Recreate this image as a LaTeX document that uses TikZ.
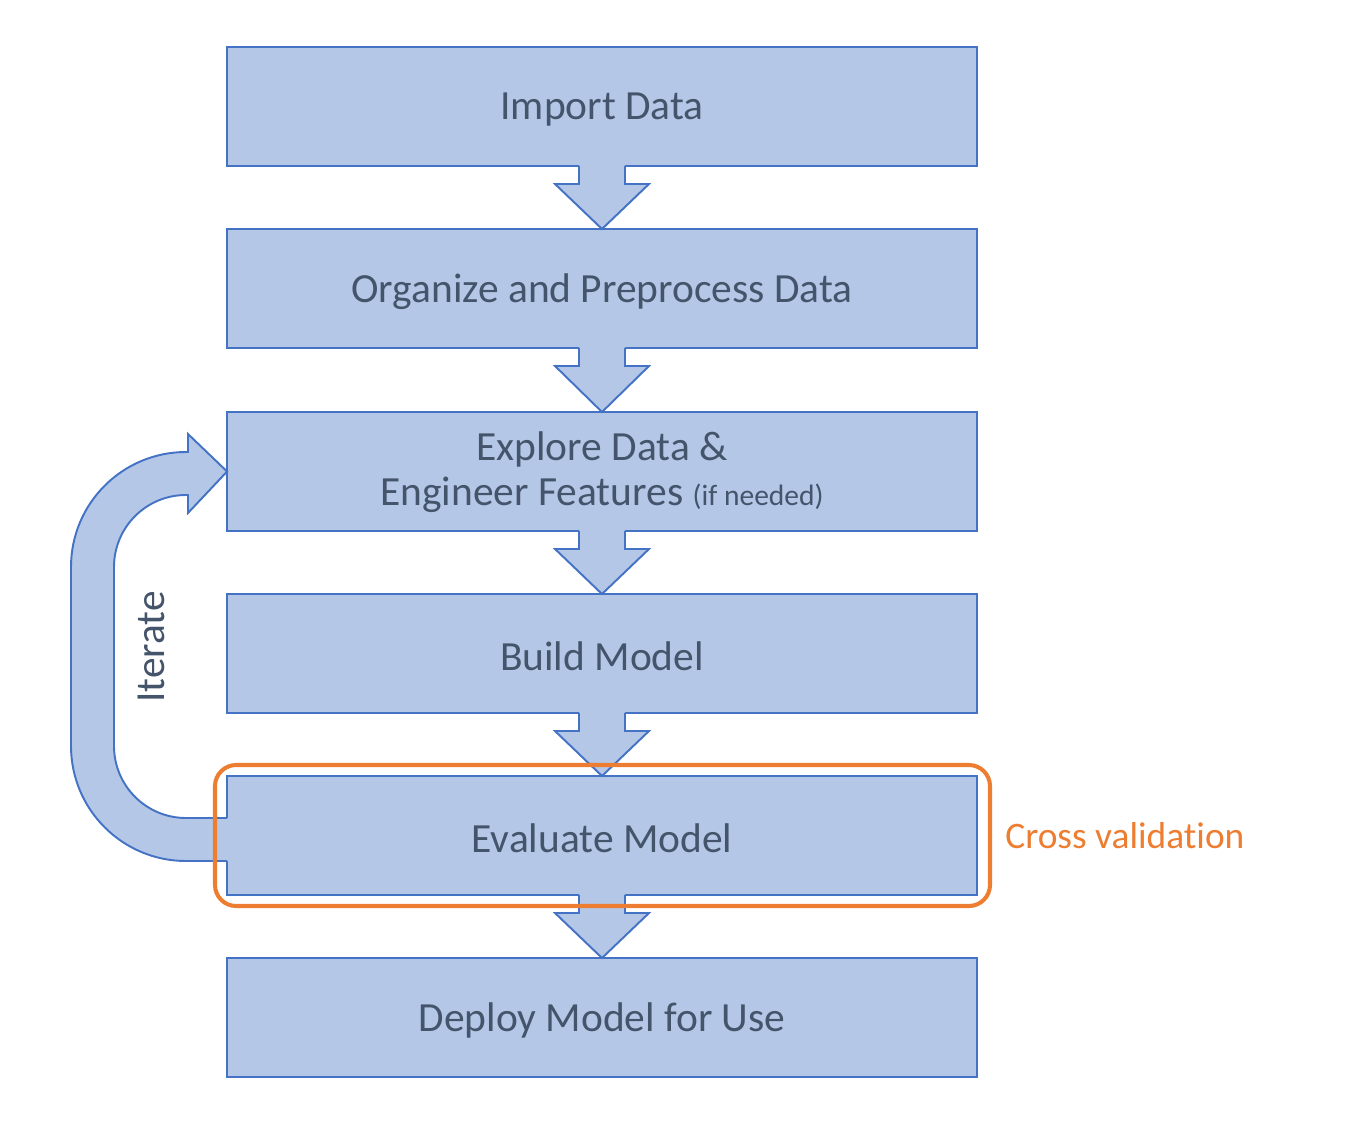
\documentclass[tikz,border=0pt]{standalone}
\usepackage{fontspec}
\setmainfont{Carlito}[Ligatures=NoCommon]
\usetikzlibrary{calc}
\definecolor{boxfill}{HTML}{B4C7E7}
\definecolor{boxline}{HTML}{4472C4}
\definecolor{txt}{HTML}{44546A}
\definecolor{orng}{HTML}{ED7D31}
\newcommand{\dn}[1]{\raisebox{-1.6pt}[\height][\depth]{#1}}
\begin{document}
\begin{tikzpicture}[x=0.02cm,y=-0.02cm,
  stepbox/.style={draw=boxline,fill=boxfill,line width=1.1pt,minimum width=15cm,minimum height=2.38cm,inner sep=0pt,outer sep=0pt,text=txt,font=\fontsize{23.6pt}{25.5pt}\selectfont,align=center},
  arrfill/.style={fill=boxfill},
  arrline/.style={draw=boxline,line width=1.1pt,line join=miter}]
\useasboundingbox (0,0) rectangle (1372,1125);
\node[stepbox] (b1) at (602,106.5) {\dn{Import Data}};
\node[stepbox] (b2) at (602,288.5) {\dn{Organize and Preprocess Data}};
\node[stepbox] (b3) at (602,471.5) {\raisebox{-0.6pt}[\height][\depth]{Explore Data \&}\\\raisebox{-0.6pt}[\height][\depth]{Engineer Features {\fontsize{16.8pt}{18pt}\selectfont(if needed)}}};
\node[stepbox] (b4) at (602,653.5) {\dn{Build Model}};
\node[stepbox] (b5) at (602,835.5) {\dn{Evaluate Model}};
\node[stepbox] (b6) at (602,1017.5) {\dn{Deploy Model for Use}};
\foreach \a/\b in {b1/b2,b2/b3,b3/b4,b4/b5,b5/b6}{
  \fill[arrfill] ($(\a.south)+(-23,-2)$) -- ($(\a.south)+(-23,18)$) -- ($(\a.south)+(-47,18)$) -- (\b.north) -- ($(\a.south)+(47,18)$) -- ($(\a.south)+(23,18)$) -- ($(\a.south)+(23,-2)$) -- cycle;
  \draw[arrline] ($(\a.south)+(-23,0)$) -- ($(\a.south)+(-23,18)$) -- ($(\a.south)+(-47,18)$) -- (\b.north) -- ($(\a.south)+(47,18)$) -- ($(\a.south)+(23,18)$) -- ($(\a.south)+(23,0)$);
}
% iterate arrow
\fill[arrfill] ($(b5.west)+(2,25.5)$) -- (186,861) arc[start angle=90,end angle=180,radius=115] -- (71,567) arc[start angle=180,end angle=270,radius=115] -- (188,452) -- (188,434) -- (b3.west) -- (188,513) -- (188,495) -- (186,495) arc[start angle=270,end angle=180,radius=72] -- (114,746) arc[start angle=180,end angle=90,radius=72] -- ($(b5.west)+(2,-17.5)$) -- cycle;
\draw[arrline] ($(b5.west)+(0,25.5)$) -- (186,861) arc[start angle=90,end angle=180,radius=115] -- (71,567) arc[start angle=180,end angle=270,radius=115] -- (188,452) -- (188,434) -- (b3.west) -- (188,513) -- (188,495) -- (186,495) arc[start angle=270,end angle=180,radius=72] -- (114,746) arc[start angle=180,end angle=90,radius=72] -- ($(b5.west)+(0,-17.5)$);
\node[rotate=90,text=txt,font=\fontsize{23.5pt}{25pt}\selectfont] (it) at (151,647) {Iterate};
% cross validation
\draw[orng,line width=2.3pt,rounded corners=12pt] (215,765) rectangle (990,906);
\node[anchor=west,text=orng,font=\fontsize{21.3pt}{24pt}\selectfont,inner sep=0pt] (cv) at (1005,836) {Cross validation};
\end{tikzpicture}
\end{document}
